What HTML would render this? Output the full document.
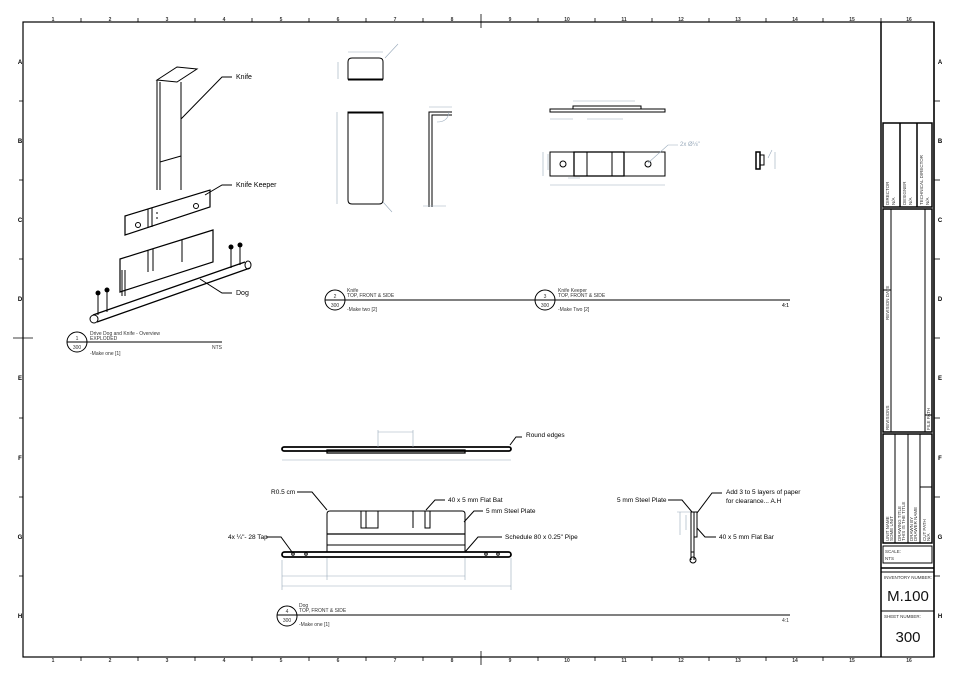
<!DOCTYPE html>
<html><head><meta charset="utf-8"><style>
html,body{margin:0;padding:0;background:#fff;}
svg{display:block;font-family:"Liberation Sans",sans-serif;}
.t{font-size:7px;fill:#000;}
.s{font-size:5px;fill:#333;}
.d{stroke:#9ab;stroke-width:.6;fill:none;}
.k{stroke:#000;fill:none;stroke-width:1;}
</style></head><body>
<svg width="960" height="678" viewBox="0 0 960 678" xmlns="http://www.w3.org/2000/svg">
<rect width="960" height="678" fill="#fff"/>
<rect x="23" y="22" width="911" height="635" fill="none" stroke="#000" stroke-width="1.2"/>
<line x1="881" y1="22" x2="881" y2="657" stroke="#000" stroke-width="1.5"/>
<line x1="934" y1="22" x2="934" y2="657" stroke="#000" stroke-width="1.5"/>
<g stroke="#000" stroke-width=".8">
<line x1="81" y1="18" x2="81" y2="22"/><line x1="138" y1="18" x2="138" y2="22"/><line x1="195" y1="18" x2="195" y2="22"/><line x1="252" y1="18" x2="252" y2="22"/><line x1="309" y1="18" x2="309" y2="22"/><line x1="366" y1="18" x2="366" y2="22"/><line x1="423" y1="18" x2="423" y2="22"/><line x1="481" y1="14" x2="481" y2="28"/><line x1="538" y1="18" x2="538" y2="22"/><line x1="595" y1="18" x2="595" y2="22"/><line x1="652" y1="18" x2="652" y2="22"/><line x1="709" y1="18" x2="709" y2="22"/><line x1="766" y1="18" x2="766" y2="22"/><line x1="823" y1="18" x2="823" y2="22"/><line x1="881" y1="18" x2="881" y2="22"/>
<line x1="81" y1="657" x2="81" y2="661"/><line x1="138" y1="657" x2="138" y2="661"/><line x1="195" y1="657" x2="195" y2="661"/><line x1="252" y1="657" x2="252" y2="661"/><line x1="309" y1="657" x2="309" y2="661"/><line x1="366" y1="657" x2="366" y2="661"/><line x1="423" y1="657" x2="423" y2="661"/><line x1="481" y1="651" x2="481" y2="665"/><line x1="538" y1="657" x2="538" y2="661"/><line x1="595" y1="657" x2="595" y2="661"/><line x1="652" y1="657" x2="652" y2="661"/><line x1="709" y1="657" x2="709" y2="661"/><line x1="766" y1="657" x2="766" y2="661"/><line x1="823" y1="657" x2="823" y2="661"/>
<line x1="934" y1="101" x2="940" y2="101"/><line x1="934" y1="180" x2="940" y2="180"/><line x1="934" y1="259" x2="940" y2="259"/><line x1="934" y1="338" x2="940" y2="338"/><line x1="934" y1="418" x2="940" y2="418"/><line x1="934" y1="497" x2="940" y2="497"/><line x1="934" y1="576" x2="940" y2="576"/>
<line x1="19" y1="101" x2="23" y2="101"/><line x1="19" y1="180" x2="23" y2="180"/><line x1="19" y1="259" x2="23" y2="259"/><line x1="13" y1="338" x2="33" y2="338"/><line x1="19" y1="418" x2="23" y2="418"/><line x1="19" y1="497" x2="23" y2="497"/><line x1="19" y1="576" x2="23" y2="576"/>
</g>
<g class="s" text-anchor="middle" style="font-size:5px;font-weight:bold">
<text x="53" y="21">1</text><text x="110" y="21">2</text><text x="167" y="21">3</text><text x="224" y="21">4</text><text x="281" y="21">5</text><text x="338" y="21">6</text><text x="395" y="21">7</text><text x="452" y="21">8</text><text x="510" y="21">9</text><text x="567" y="21">10</text><text x="624" y="21">11</text><text x="681" y="21">12</text><text x="738" y="21">13</text><text x="795" y="21">14</text><text x="852" y="21">15</text><text x="909" y="21">16</text>
<text x="53" y="662">1</text><text x="110" y="662">2</text><text x="167" y="662">3</text><text x="224" y="662">4</text><text x="281" y="662">5</text><text x="338" y="662">6</text><text x="395" y="662">7</text><text x="452" y="662">8</text><text x="510" y="662">9</text><text x="567" y="662">10</text><text x="624" y="662">11</text><text x="681" y="662">12</text><text x="738" y="662">13</text><text x="795" y="662">14</text><text x="852" y="662">15</text><text x="909" y="662">16</text>
</g>
<g style="font-size:6px;font-weight:bold" text-anchor="middle">
<text x="20" y="64">A</text><text x="20" y="143">B</text><text x="20" y="222">C</text><text x="20" y="301">D</text><text x="20" y="380">E</text><text x="20" y="460">F</text><text x="20" y="539">G</text><text x="20" y="618">H</text>
<text x="940" y="64">A</text><text x="940" y="143">B</text><text x="940" y="222">C</text><text x="940" y="301">D</text><text x="940" y="380">E</text><text x="940" y="460">F</text><text x="940" y="539">G</text><text x="940" y="618">H</text>
</g>
<g stroke="#000" fill="none">
<rect x="883" y="123" width="49" height="84" stroke-width="1.5"/>
<line x1="900" y1="123" x2="900" y2="207" stroke-width="1.5"/><line x1="917" y1="123" x2="917" y2="207" stroke-width="1.5"/>
<rect x="883" y="209" width="49" height="223" stroke-width="1.5"/>
<line x1="891" y1="209" x2="891" y2="432"/><line x1="891" y1="290" x2="883" y2="290"/>
<line x1="925" y1="209" x2="925" y2="432"/><line x1="925" y1="415" x2="932" y2="415"/>
<rect x="883" y="434" width="49" height="109" stroke-width="1.5"/>
<line x1="895" y1="434" x2="895" y2="543"/><line x1="908" y1="434" x2="908" y2="543"/><line x1="920" y1="434" x2="920" y2="543"/><line x1="920" y1="487" x2="932" y2="487"/>
<rect x="883" y="546" width="49" height="17"/>
<line x1="881" y1="568" x2="934" y2="568" stroke-width="1.5"/>
<line x1="881" y1="572" x2="934" y2="572" stroke-width="1"/>
<line x1="881" y1="611" x2="934" y2="611"/>
</g>
<g style="font-size:4.5px" fill="#333">
<text transform="translate(889,205) rotate(-90)">DIRECTOR</text><text transform="translate(895,205) rotate(-90)">N/A</text>
<text transform="translate(906,205) rotate(-90)">DESIGNER</text><text transform="translate(912,205) rotate(-90)">N/A</text>
<text transform="translate(923,205) rotate(-90)">TECHNICAL DIRECTOR</text><text transform="translate(929,205) rotate(-90)">N/A</text>
<text transform="translate(889,320) rotate(-90)">REVISION DATE</text>
<text transform="translate(889,430) rotate(-90)">REVISIONS</text>
<text transform="translate(930,430) rotate(-90)">FILE PATH</text>
<text transform="translate(889,541) rotate(-90)">UNIT NAME</text><text transform="translate(893,541) rotate(-90)">SOME UNIT</text>
<text transform="translate(901,541) rotate(-90)">DRAWING TITLE</text><text transform="translate(905,541) rotate(-90)">THIS IS THE TITLE</text>
<text transform="translate(913,541) rotate(-90)">DRAWN BY</text><text transform="translate(917,541) rotate(-90)">DRAWER NAME</text>
<text transform="translate(926,541) rotate(-90)">CUT PATH</text><text transform="translate(930,541) rotate(-90)">N/A</text>
<text x="885" y="553">SCALE:</text><text x="885" y="560">NTS</text>
<text x="884" y="579" style="font-size:4.5px">INVENTORY NUMBER:</text>
<text x="884" y="618" style="font-size:4.5px">SHEET NUMBER:</text>
</g>
<text x="908" y="601" text-anchor="middle" style="font-size:15px" fill="#111">M.100</text>
<text x="908" y="642" text-anchor="middle" style="font-size:15px" fill="#111">300</text>

<g class="k" stroke-width="1">
<path d="M157 80 L177 67 L197 69 L177 82 Z"/><path d="M157 80 L157 190 M160 82 L160 190 M181 82 L181 190"/>
<line x1="160" y1="162" x2="181" y2="156"/>
<line x1="157" y1="212" x2="157" y2="222" stroke-dasharray="2 3"/>
<path d="M125 216 L210 190 L210 207 L125 235 Z" stroke-width="1.2"/>
<path d="M148 209 L148 228 M152 208 L152 227"/>
<circle cx="138" cy="225" r="2.5"/><circle cx="196" cy="206" r="2.5"/>
<path d="M120 259 L213 230 L213 262 L120 292 Z" stroke-width="1.2"/>
<path d="M148 250 L148 272 M153 249 L153 271 M182 240 L182 262"/>
<path d="M122 296 L122 270 M125 296 L125 270"/>
<path d="M93 315 L245 262 M97 322 L250 268" stroke-width="1.3"/>
<ellipse cx="94" cy="319" rx="4" ry="4"/><ellipse cx="248" cy="265" rx="3" ry="4"/>
<line x1="98" y1="293" x2="98" y2="315"/><line x1="107" y1="290" x2="107" y2="312"/><line x1="231" y1="248" x2="231" y2="268"/><line x1="240" y1="245" x2="240" y2="265"/>
</g>
<g fill="#000"><circle cx="98" cy="293" r="2.5"/><circle cx="107" cy="290" r="2.5"/><circle cx="231" cy="247" r="2.5"/><circle cx="240" cy="245" r="2.5"/></g>
<g class="k" stroke-width=".9">
<path d="M181 119 L222 77 L232 77"/><path d="M205 195 L222 185 L232 185"/><path d="M200 279 L222 293 L232 293"/>
</g>
<text x="236" y="79" class="t">Knife</text><text x="236" y="187" class="t">Knife Keeper</text><text x="236" y="295" class="t">Dog</text>
<circle cx="77" cy="342" r="10" class="k"/><line x1="67" y1="342" x2="222" y2="342" stroke="#000"/>
<text x="77" y="340" class="s" text-anchor="middle">1</text><text x="77" y="349" class="s" text-anchor="middle">300</text>
<text x="90" y="335" class="s">Drive Dog and Knife - Overview</text><text x="90" y="340" class="s">EXPLODED</text>
<text x="90" y="355" class="s">-Make one [1]</text><text x="212" y="349" class="s">NTS</text>

<g class="k"><path d="M348 79 L348 62 Q348 58 352 58 L379 58 Q383 58 383 62 L383 79 Z"/><line x1="348" y1="80" x2="383" y2="80"/>
<path d="M348 112 L383 112 L383 200 Q383 204 379 204 L352 204 Q348 204 348 200 Z"/><line x1="348" y1="113" x2="383" y2="113"/>
<path d="M429 207 L429 112 L452 112 M432 207 L432 115 L452 115"/></g>
<g class="d"><path d="M348 52 L383 52 M338 62 L338 79 M337 112 L337 204 M429 107 L452 107 M385 58 L398 44 M383 202 L392 212 M437 122 Q448 122 449 112 M423 206 L446 206"/></g>
<circle cx="335" cy="300" r="10" class="k"/><line x1="325" y1="300" x2="790" y2="300" stroke="#000"/>
<text x="335" y="298" class="s" text-anchor="middle">2</text><text x="335" y="307" class="s" text-anchor="middle">300</text>
<text x="347" y="292" class="s">Knife</text><text x="347" y="297" class="s">TOP, FRONT &amp; SIDE</text>
<text x="347" y="311" class="s">-Make two [2]</text><text x="782" y="307" class="s">4:1</text>

<g class="k"><rect x="550" y="109" width="115" height="3"/><rect x="573" y="106" width="68" height="3"/>
<rect x="550" y="152" width="115" height="24"/><rect x="574" y="152" width="50" height="24" stroke-width="1.3"/>
<line x1="587" y1="152" x2="587" y2="176"/><line x1="612" y1="152" x2="612" y2="176"/>
<circle cx="563" cy="164" r="3"/><circle cx="648" cy="164" r="3"/>
<rect x="756" y="152" width="4" height="17" stroke-width="1.5"/><rect x="760" y="155" width="4" height="10"/></g>
<g class="d"><path d="M573 101 L635 101 M550 119 L573 119 M587 119 L623 119 M550 185 L665 185 M543 152 L543 176 M548 154 L548 170 M568 178 L580 178 M648 163 L668 145 L678 145 M775 152 L775 169 M768 158 L772 150"/></g>
<text x="680" y="146" style="font-size:6px" fill="#9ab">2x Ø⅛"</text>
<circle cx="545" cy="300" r="10" class="k"/><line x1="535" y1="300" x2="790" y2="300" stroke="#000"/>
<text x="545" y="298" class="s" text-anchor="middle">3</text><text x="545" y="307" class="s" text-anchor="middle">300</text>
<text x="558" y="292" class="s">Knife Keeper</text><text x="558" y="297" class="s">TOP, FRONT &amp; SIDE</text>
<text x="558" y="311" class="s">-Make Two [2]</text><text x="782" y="307" class="s">4:1</text>

<g class="k"><rect x="282" y="447" width="229" height="4" rx="2" stroke-width="1.8"/><rect x="327" y="450" width="138" height="3" stroke-width="1.3"/></g>
<g class="d"><path d="M378 430 L378 447 M413 430 L413 447 M378 432 L413 432 M282 460 L511 460"/></g>
<path d="M510 445 L516 437 L522 437" class="k"/><text x="526" y="437" class="t" style="font-size:6.5px">Round edges</text>
<g class="k"><path d="M327 552 L327 514 Q327 511 330 511 L462 511 Q465 511 465 514 L465 552"/>
<line x1="327" y1="534" x2="465" y2="534" stroke-width="1.3"/><line x1="327" y1="545" x2="465" y2="545"/>
<path d="M361 511 L361 528 L378 528 L378 511 M366 511 L366 528 M413 511 L413 528 M425 511 L425 528 L430 528 L430 511"/>
<rect x="282" y="552" width="229" height="5" rx="2.5" stroke-width="1.8"/>
<circle cx="293" cy="554" r="1.3"/><circle cx="306" cy="554" r="1.3"/><circle cx="486" cy="554" r="1.3"/><circle cx="498" cy="554" r="1.3"/></g>
<g class="d"><path d="M282 576 L327 576 M327 576 L465 576 M282 586 L511 586 M282 560 L282 590 M327 558 L327 580 M465 558 L465 580 M511 558 L511 590"/></g>
<g class="k" stroke-width=".9">
<path d="M297 492 L312 492 L327 510 M266 537 L281 537 L292 552 M426 510 L435 500 L445 500 M464 522 L474 511 L483 511 M465 552 L478 537 L502 537"/></g>
<text x="271" y="494" class="t" style="font-size:6.5px">R0.5 cm</text>
<text x="228" y="539" class="t" style="font-size:6.5px">4x ¼"- 28 Tap</text>
<text x="448" y="502" class="t" style="font-size:6.5px">40 x 5 mm Flat Bat</text>
<text x="486" y="513" class="t" style="font-size:6.5px">5 mm Steel Plate</text>
<text x="505" y="539" class="t" style="font-size:6.5px">Schedule  80 x 0.25" Pipe</text>
<g class="k"><rect x="691" y="512" width="3" height="40"/><rect x="694" y="512" width="3" height="25"/><path d="M691 552 L691 560 M694 552 L694 560"/><circle cx="693" cy="560" r="3"/></g>
<g class="d"><path d="M680 512 L680 535 M686 515 L686 530 M677 512 L690 512"/></g>
<g class="k" stroke-width=".9"><path d="M668 500 L682 500 L692 512 M697 513 L712 493 L722 493 M697 528 L705 537 L716 537"/></g>
<text x="617" y="502" class="t" style="font-size:6.5px">5 mm Steel Plate</text>
<text x="726" y="494" class="t" style="font-size:6.5px">Add 3 to 5 layers of paper</text>
<text x="726" y="503" class="t" style="font-size:6.5px">for clearance... A.H</text>
<text x="719" y="539" class="t" style="font-size:6.5px">40 x 5 mm Flat Bar</text>
<circle cx="287" cy="616" r="10" class="k"/><line x1="277" y1="615" x2="790" y2="615" stroke="#000"/>
<text x="287" y="613" class="s" text-anchor="middle">4</text><text x="287" y="622" class="s" text-anchor="middle">300</text>
<text x="299" y="607" class="s">Dog</text><text x="299" y="612" class="s">TOP, FRONT &amp; SIDE</text>
<text x="299" y="626" class="s">-Make one [1]</text><text x="782" y="622" class="s">4:1</text>
</svg>
</body></html>
